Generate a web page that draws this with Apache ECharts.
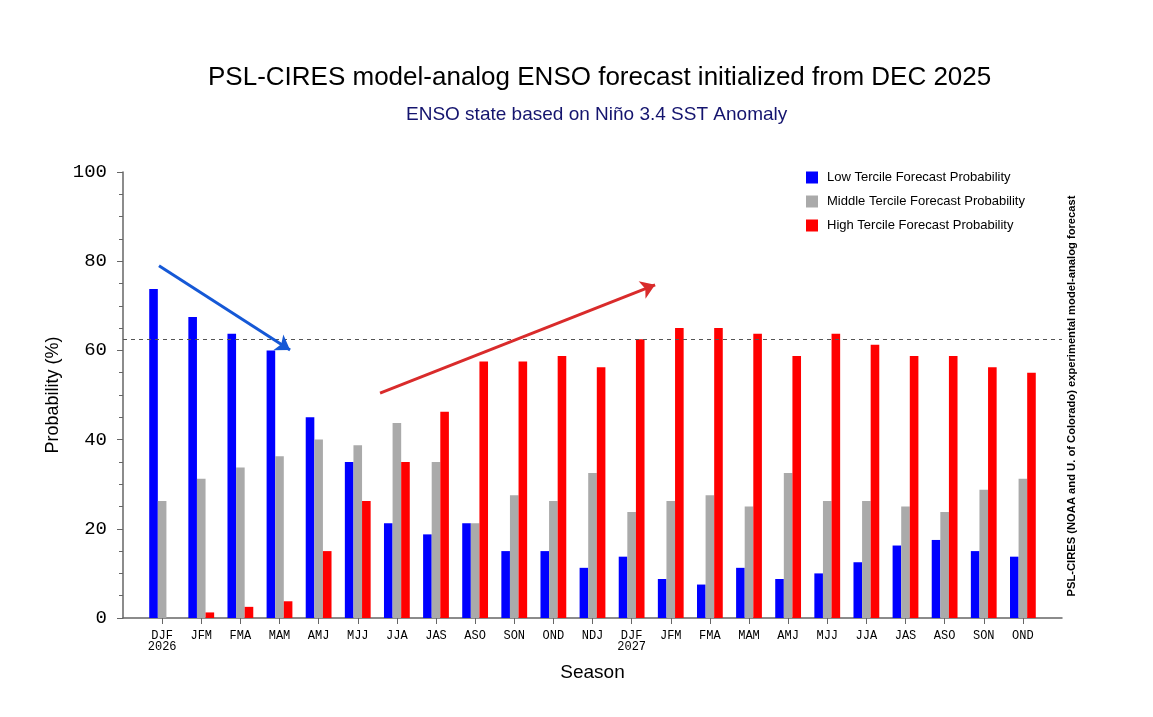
<!DOCTYPE html>
<html>
<head>
<meta charset="utf-8">
<script src="https://cdn.jsdelivr.net/npm/echarts@6/dist/echarts.min.js"></script>
<style>
  html, body { margin: 0; padding: 0; background: #fff; }
  #box { width: 1153px; height: 717px; }
</style>
</head>
<body>
<div id="box"></div>
<script>
// seasons (3-month windows), starting DJF 2026
const seasons = ['DJF\n2026', 'JFM', 'FMA', 'MAM', 'AMJ', 'MJJ', 'JJA', 'JAS', 'ASO', 'SON', 'OND', 'NDJ',
  'DJF\n2027', 'JFM', 'FMA', 'MAM', 'AMJ', 'MJJ', 'JJA', 'JAS', 'ASO', 'SON', 'OND']
const lowTercile = [73.75, 67.5, 63.75, 60, 45, 35, 21.25, 18.75, 21.25, 15, 15, 11.25,
  13.75, 8.75, 7.5, 11.25, 8.75, 10, 12.5, 16.25, 17.5, 15, 13.75]
const midTercile = [26.25, 31.25, 33.75, 36.25, 40, 38.75, 43.75, 35, 21.25, 27.5, 26.25, 32.5,
  23.75, 26.25, 27.5, 25, 32.5, 26.25, 26.25, 25, 23.75, 28.75, 31.25]
const highTercile = [0, 1.25, 2.5, 3.75, 15, 26.25, 35, 46.25, 57.5, 57.5, 58.75, 56.25,
  62.5, 65, 65, 63.75, 58.75, 63.75, 61.25, 58.75, 58.75, 56.25, 55]
const yTicks = [0, 20, 40, 60, 80, 100]
const threshold = 62.5
// trend arrows, in axis units [season position, probability]
const coolArrow = [[0.92, 79], [4.27, 60.1]]
const warmArrow = [[6.57, 50.4], [13.6, 74.7]]

const positions = seasons.map((s, i) => i + 1)
const toPoints = vals => vals.map((v, i) => [i + 1, v])
const mono = 'Liberation Mono'
const sans = 'Liberation Sans'

const barSeries = (name, color, vals) => ({
  name,
  type: 'bar',
  data: toPoints(vals),
  barWidth: 8.6,
  barGap: '0%',
  itemStyle: { color },
  emphasis: { disabled: true }
})

const arrowLine = (pts, color) => [
  { coord: pts[0], symbol: 'none', lineStyle: { color, width: 3, type: 'solid' } },
  { coord: pts[1], symbol: 'arrow', symbolSize: 14 }
]

const chart = echarts.init(document.getElementById('box'))
const series = [
  barSeries('Low Tercile Forecast Probability', '#0000ff', lowTercile),
  barSeries('Middle Tercile Forecast Probability', '#aaaaaa', midTercile),
  barSeries('High Tercile Forecast Probability', '#ff0000', highTercile)
]
// middle bar sits on the tick, so its markLines use unshifted coordinates
series[1].markLine = {
  silent: true,
  symbol: ['none', 'none'],
  label: { show: false },
  lineStyle: { color: '#555', type: [4, 4], width: 1 },
  data: [
    { yAxis: threshold },
    arrowLine(coolArrow, '#1558d6'),
    arrowLine(warmArrow, '#d92b2b')
  ]
}

chart.setOption({
  animation: false,
  title: [
    {
      text: 'PSL-CIRES model-analog ENSO forecast initialized from DEC 2025',
      left: 203,
      top: 60,
      textStyle: { fontFamily: sans, fontSize: 26, fontWeight: 'normal', color: '#000' }
    },
    {
      text: 'ENSO state based on Niño 3.4 SST Anomaly',
      left: 401,
      top: 100,
      textStyle: { fontFamily: sans, fontSize: 19, fontWeight: 'normal', color: '#14146e' }
    }
  ],
  legend: {
    orient: 'vertical',
    left: 806,
    top: 171,
    padding: 0,
    itemWidth: 12,
    itemHeight: 12,
    itemGap: 11,
    icon: 'rect',
    selectedMode: false,
    textStyle: { fontFamily: sans, fontSize: 13, color: '#000', padding: [0, 0, 0, 4] }
  },
  graphic: [{
    type: 'text',
    x: 1072,
    y: 396,
    rotation: Math.PI / 2,
    style: {
      text: 'PSL-CIRES (NOAA and U. of Colorado) experimental model-analog forecast',
      font: 'bold 11.2px "Liberation Sans"',
      fill: '#000',
      align: 'center',
      verticalAlign: 'middle'
    }
  }],
  grid: { left: 123, right: 91, top: 172, bottom: 99 },
  xAxis: {
    type: 'value',
    min: 0,
    max: seasons.length + 1,
    interval: 1,
    splitLine: { show: false },
    name: 'Season',
    nameLocation: 'middle',
    nameGap: 45,
    nameTextStyle: { fontFamily: sans, fontSize: 19, color: '#000' },
    axisLine: { show: true, lineStyle: { color: '#666', width: 1.5 } },
    axisTick: { show: true, length: 6, customValues: positions, lineStyle: { color: '#666' } },
    axisLabel: {
      customValues: positions,
      formatter: v => seasons[v - 1] || '',
      fontFamily: mono,
      fontSize: 12,
      lineHeight: 11,
      color: '#000',
      margin: 12
    }
  },
  yAxis: {
    type: 'value',
    min: 0,
    max: 100,
    interval: 20,
    splitLine: { show: false },
    name: 'Probability (%)',
    nameLocation: 'middle',
    nameGap: 61,
    nameTextStyle: { fontFamily: sans, fontSize: 18, color: '#000' },
    axisLine: { show: true, lineStyle: { color: '#666', width: 1.5 } },
    axisTick: { show: true, length: 6, customValues: yTicks, lineStyle: { color: '#666' } },
    minorTick: { show: true, splitNumber: 4, length: 4, lineStyle: { color: '#666' } },
    axisLabel: {
      fontFamily: mono,
      fontSize: 19,
      color: '#000',
      margin: 16
    }
  },
  series
})
</script>
</body>
</html>
